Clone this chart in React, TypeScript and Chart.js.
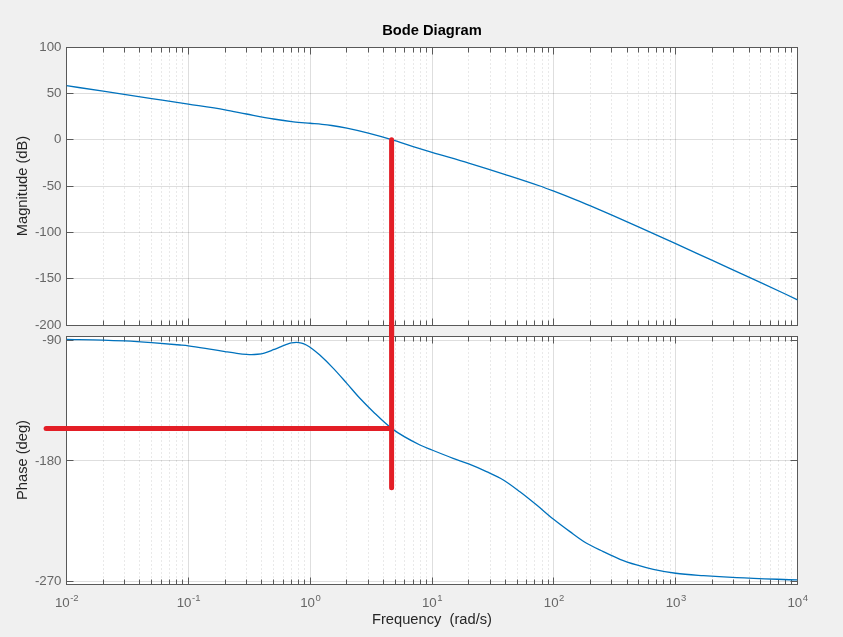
import React, { useEffect, useRef } from 'react';
import { Chart, registerables } from 'chart.js';

Chart.register(...registerables);

// ---------- data ----------
const FREQ_TICKS = [0.01, 0.1, 1, 10, 100, 1000, 10000];
const FREQ_TICK_BASE = '10';
const FREQ_TICK_EXPONENTS = ['-2', '-1', '0', '1', '2', '3', '4'];
const MAG_TICKS = [-200, -150, -100, -50, 0, 50, 100];
const PHASE_TICKS = [-270, -180, -90];

const magFreq = [0.01, 0.02, 0.05, 0.1, 0.2, 0.3, 0.5, 0.73, 1, 1.25, 1.5, 2, 3, 4.66, 7, 10, 20, 40, 77, 100, 150, 200, 300, 500, 1000, 2000, 5000, 10000];
const magDb = [58.3, 52.3, 44.4, 38.4, 32.2, 27.7, 22.3, 19.3, 17.7, 16.6, 15.3, 12.4, 7.0, 0, -7.4, -13.6, -25.2, -37.6, -50, -55.6, -64.7, -71.5, -81.4, -94.3, -112.2, -130.3, -154.2, -172.8];

const phaseFreq = [0.01, 0.02, 0.03, 0.05, 0.0855, 0.1, 0.16, 0.2, 0.25, 0.3, 0.33, 0.37, 0.42, 0.5, 0.57, 0.64, 0.7, 0.77, 0.85, 0.93, 1.05, 1.2, 1.55, 2, 2.56, 3.29, 4.66, 7.96, 10, 14.9, 20, 28, 38.5, 52.7, 72.3, 98.9, 135.6, 185.8, 254.6, 349, 478, 655, 1000, 1687, 3170, 10000];
const phaseDeg = [-89.5, -90, -90.7, -92, -93.7, -94.3, -97.2, -98.6, -99.9, -100.7, -100.9, -100.6, -99.7, -97.2, -95.1, -93.3, -92.2, -91.7, -92.3, -93.7, -96.8, -101.2, -111.1, -122.3, -133.4, -143.4, -155.8, -168.2, -171.9, -178.1, -182.3, -188, -194.2, -203, -212.9, -223.3, -232.7, -241.4, -247.6, -253.3, -257.5, -260.8, -263.7, -265.5, -267, -268.7];

// red crossover annotation
const CROSSOVER_FREQ = 4.66;
const markMagDb = [0, -250];          // vertical marker in the magnitude axes (runs down into the phase axes)
const markPhaseVertical = [-60, -200]; // vertical marker in the phase axes
const markPhaseLevel = -155.8;         // horizontal marker phase
const markFreqStart = 0.0068;          // horizontal marker start frequency

// ---------- style ----------
const FONT = "'Liberation Sans', Arial, Helvetica, sans-serif";
const BLUE = '#0072bd';
const RED = '#e31e26';
const GRID = 'rgba(0,0,0,0.13)';
const MINOR_GRID = 'rgba(0,0,0,0.085)';
const FRAME = '#595959';
const TICK_TEXT = '#666666';
const LABEL_TEXT = '#262626';

const MINOR_FREQS: number[] = [];
for (let n = -2; n < 4; n++) {
  for (let k = 2; k <= 9; k++) MINOR_FREQS.push(k * Math.pow(10, n));
}

const al = (p: number) => Math.round(p - 0.5) + 0.5;

const framePlugin = {
  id: 'bodeFrame',
  beforeDraw(chart: any) {
    const { ctx, chartArea: a } = chart;
    ctx.save();
    ctx.fillStyle = '#ffffff';
    ctx.fillRect(a.left, a.top, a.right - a.left, a.bottom - a.top);
    ctx.restore();
  },
  beforeDatasetsDraw(chart: any) {
    const { ctx, chartArea: a } = chart;
    const xs = chart.scales.x;
    const ys = chart.scales.y;
    const L = al(a.left), R = al(a.right), T = al(a.top), B = al(a.bottom);
    ctx.save();
    // minor dotted grid
    ctx.lineWidth = 1;
    ctx.strokeStyle = MINOR_GRID;
    ctx.setLineDash([2, 2]);
    MINOR_FREQS.forEach((v) => {
      const px = al(xs.getPixelForValue(v));
      ctx.beginPath();
      ctx.moveTo(px, a.top);
      ctx.lineTo(px, a.bottom);
      ctx.stroke();
    });
    ctx.setLineDash([]);
    // frame
    ctx.strokeStyle = FRAME;
    ctx.strokeRect(L, T, R - L, B - T);
    // inward ticks
    ctx.beginPath();
    const xt = (v: number, len: number) => {
      const px = al(xs.getPixelForValue(v));
      ctx.moveTo(px, T);
      ctx.lineTo(px, T + len);
      ctx.moveTo(px, B);
      ctx.lineTo(px, B - len);
    };
    FREQ_TICKS.forEach((v) => xt(v, 7));
    MINOR_FREQS.forEach((v) => xt(v, 5));
    ys.ticks.forEach((t: any) => {
      const py = al(ys.getPixelForValue(t.value));
      ctx.moveTo(L, py);
      ctx.lineTo(L + 7, py);
      ctx.moveTo(R, py);
      ctx.lineTo(R - 7, py);
    });
    ctx.stroke();
    ctx.restore();
  },
};

// decade labels "10" with a raised exponent, placed at the x scale's tick pixels
const decadeLabelPlugin = {
  id: 'decadeLabels',
  afterDraw(chart: any) {
    const { ctx, chartArea: a } = chart;
    const xs = chart.scales.x;
    ctx.save();
    ctx.fillStyle = TICK_TEXT;
    ctx.textAlign = 'left';
    ctx.textBaseline = 'alphabetic';
    const baseFont = `13.3px ${FONT}`;
    const expFont = `9.5px ${FONT}`;
    FREQ_TICKS.forEach((v, i) => {
      const px = xs.getPixelForValue(v);
      const exp = FREQ_TICK_EXPONENTS[i];
      ctx.font = baseFont;
      const w1 = ctx.measureText(FREQ_TICK_BASE).width;
      ctx.font = expFont;
      const w2 = ctx.measureText(exp).width;
      const x0 = px - (w1 + w2) / 2;
      ctx.font = baseFont;
      ctx.fillText(FREQ_TICK_BASE, x0, a.bottom + 23);
      ctx.font = expFont;
      ctx.fillText(exp, x0 + w1 + 0.5, a.bottom + 17);
    });
    ctx.restore();
  },
};

const tickFont = { family: FONT, size: 13.3 };
const labelFont = { family: FONT, size: 14.7 };

function xScale(bottomAxis: boolean) {
  return {
    type: 'logarithmic',
    min: 0.01,
    max: 10000,
    afterBuildTicks: (s: any) => {
      s.ticks = FREQ_TICKS.map((v) => ({ value: v }));
    },
    ticks: { display: false, autoSkip: false, maxRotation: 0 },
    grid: { color: GRID, drawTicks: false },
    border: { display: false },
    title: bottomAxis
      ? { display: true, text: 'Frequency  (rad/s)', color: LABEL_TEXT, font: labelFont, padding: { top: 0, bottom: 8.7 } }
      : { display: false },
    afterFit: (s: any) => {
      s.height = bottomAxis ? 53 : 0;
    },
  };
}

function yScale(min: number, max: number, ticks: number[], label: string) {
  return {
    type: 'linear',
    min,
    max,
    afterBuildTicks: (s: any) => {
      s.ticks = ticks.map((v) => ({ value: v }));
    },
    ticks: { autoSkip: false, padding: 5, color: TICK_TEXT, font: tickFont, callback: (v: number) => String(v) },
    grid: { color: GRID, drawTicks: false },
    border: { display: false },
    title: { display: true, text: label, color: LABEL_TEXT, font: labelFont, padding: { top: 13.7, bottom: 0 } },
    afterFit: (s: any) => {
      s.width = 66.5;
    },
  };
}

const commonPlugins = { legend: { display: false }, tooltip: { enabled: false } };

function topConfig(): any {
  return {
    type: 'line',
    data: {
      datasets: [
        {
          label: 'crossover',
          data: markMagDb.map((y) => ({ x: CROSSOVER_FREQ, y })),
          borderColor: RED,
          borderWidth: 5,
          borderCapStyle: 'round',
          pointRadius: 0,
          clip: false,
          order: 0,
        },
        {
          label: 'Magnitude',
          data: magFreq.map((f, i) => ({ x: f, y: magDb[i] })),
          borderColor: BLUE,
          borderWidth: 1.3,
          pointRadius: 0,
          cubicInterpolationMode: 'monotone',
          order: 1,
        },
      ],
    },
    options: {
      responsive: false,
      animation: false,
      events: [],
      layout: { padding: { left: 0, right: 45.5, top: 0, bottom: 15 } },
      plugins: {
        ...commonPlugins,
        title: {
          display: true,
          fullSize: false,
          text: 'Bode Diagram',
          color: '#000000',
          font: { family: FONT, size: 14.7, weight: 'bold' },
          padding: { top: 22, bottom: 7.36 },
        },
      },
      scales: {
        x: xScale(false),
        y: yScale(-200, 100, MAG_TICKS, 'Magnitude (dB)'),
      },
    },
    plugins: [framePlugin],
  };
}

function bottomConfig(): any {
  return {
    type: 'line',
    data: {
      datasets: [
        {
          label: 'crossover',
          data: markPhaseVertical.map((y) => ({ x: CROSSOVER_FREQ, y })),
          borderColor: RED,
          borderWidth: 5,
          borderCapStyle: 'round',
          pointRadius: 0,
          clip: false,
          order: 0,
        },
        {
          label: 'margin',
          data: [
            { x: markFreqStart, y: markPhaseLevel },
            { x: CROSSOVER_FREQ, y: markPhaseLevel },
          ],
          borderColor: RED,
          borderWidth: 5,
          borderCapStyle: 'round',
          pointRadius: 0,
          clip: false,
          order: 0,
        },
        {
          label: 'Phase',
          data: phaseFreq.map((f, i) => ({ x: f, y: phaseDeg[i] })),
          borderColor: BLUE,
          borderWidth: 1.3,
          pointRadius: 0,
          cubicInterpolationMode: 'monotone',
          order: 1,
        },
      ],
    },
    options: {
      responsive: false,
      animation: false,
      events: [],
      layout: { padding: { left: 0, right: 45.5, top: 14, bottom: 0 } },
      plugins: { ...commonPlugins, title: { display: false } },
      scales: {
        x: xScale(true),
        y: yScale(-271.7, -87, PHASE_TICKS, 'Phase (deg)'),
      },
    },
    plugins: [framePlugin, decadeLabelPlugin],
  };
}

export default function App() {
  const topRef = useRef<HTMLCanvasElement>(null);
  const botRef = useRef<HTMLCanvasElement>(null);

  useEffect(() => {
    const c1 = new Chart(topRef.current as HTMLCanvasElement, topConfig());
    const c2 = new Chart(botRef.current as HTMLCanvasElement, bottomConfig());
    return () => {
      c1.destroy();
      c2.destroy();
    };
  }, []);

  return (
    <div
      style={{
        position: 'fixed',
        left: 0,
        top: 0,
        width: 843,
        height: 637,
        background: '#f0f0f0',
        overflow: 'hidden',
      }}
    >
      <canvas ref={topRef} width={843} height={340} style={{ position: 'absolute', left: 0, top: 0 }} />
      <canvas ref={botRef} width={843} height={315} style={{ position: 'absolute', left: 0, top: 322 }} />
    </div>
  );
}
